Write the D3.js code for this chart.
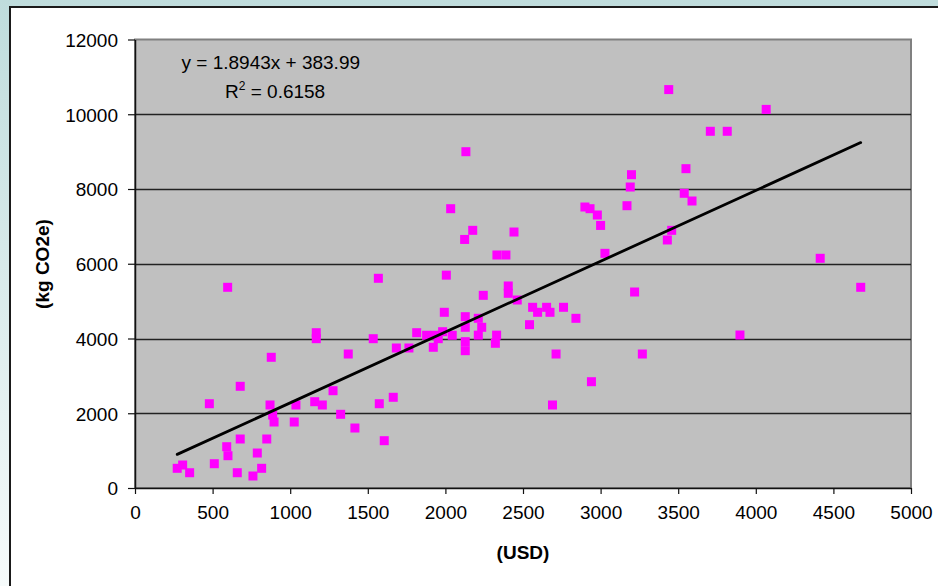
<!DOCTYPE html>
<html>
<head>
<meta charset="utf-8">
<script src="https://cdn.jsdelivr.net/npm/d3@7"></script>
<style>
    html, body { margin: 0; padding: 0; }
    body { width: 938px; height: 586px; overflow: hidden; }
    text { font-family: "Liberation Sans", Arial, sans-serif; fill: #000; }
</style>
</head>
<body>
<svg id="chart" width="938" height="586"></svg>
<script>
// values
const usd = [272, 307, 352, 479, 511, 591, 599, 597, 659, 678, 678, 760, 788, 816, 849, 870, 878, 887, 896,
    1026, 1037, 1158, 1168, 1168, 1207, 1276, 1325, 1374, 1417, 1535, 1574, 1606, 1664, 1684, 1765, 1815,
    1879, 1933, 1954, 1982, 1922, 2044, 1993, 2128, 2128, 2128, 2128, 2212, 2234, 2212, 2330, 2322, 2244,
    2405, 2405, 2463, 2562, 2594, 2652, 2674, 2761, 2841, 2542, 2713, 2941, 2690, 3269, 3898, 4676, 3219,
    3439, 4067, 3707, 3816, 3199, 3191, 3550, 3539, 3589, 3170, 2899, 2932, 2979, 3000, 3028, 2176, 2442,
    2332, 2390, 3458, 3430, 4415, 2132, 2034, 2124, 1568, 2006];
const co2 = [527, 615, 409, 2255, 650, 1105, 864, 5370, 409, 2721, 1311, 321, 936, 527, 1311, 2221, 3497, 1953, 1766,
    1766, 2221, 2309, 4155, 3995, 2221, 2603, 1972, 3585, 1605, 3995, 2255, 1266, 2427, 3746, 3746, 4155,
    4086, 4086, 3995, 4182, 3765, 4086, 4701, 4584, 4300, 3915, 3674, 4540, 4300, 4090, 4090, 3872, 5155,
    5405, 5209, 5030, 4835, 4701, 4835, 4701, 4835, 4540, 4370, 3585, 2844, 2221, 3585, 4093, 5370, 5244,
    10660, 10130, 9544, 9544, 8383, 8053, 8544, 7885, 7679, 7553, 7518, 7473, 7304, 7025, 6279, 6894, 6849,
    6234, 6234, 6894, 6636, 6146, 8998, 7473, 6650, 5611, 5695];
const xTicks = [0, 500, 1000, 1500, 2000, 2500, 3000, 3500, 4000, 4500, 5000];
const yTicks = [0, 2000, 4000, 6000, 8000, 10000, 12000];
const slope = 1.8943;
const intercept = 383.99;
const equationLabel = "y = 1.8943x + 383.99";
const r2Value = "0.6158";

const svg = d3.select("#chart");

// page background and chart frame
const defs = svg.append("defs");
const grad = defs.append("linearGradient").attr("id", "bg").attr("x1", 0).attr("y1", 0).attr("x2", 0).attr("y2", 1);
grad.append("stop").attr("offset", "0%").attr("stop-color", "#bfdcdc");
grad.append("stop").attr("offset", "100%").attr("stop-color", "#f6fbfb");
svg.append("rect").attr("width", 938).attr("height", 586).attr("fill", "url(#bg)");
svg.append("rect")
    .attr("x", 10).attr("y", 7)
    .attr("width", 940).attr("height", 600)
    .attr("fill", "#fff")
    .attr("stroke", "#1a1a1a")
    .attr("stroke-width", 2);

const plot = { left: 135, right: 911, top: 39.5, bottom: 488 };

const x = d3.scaleLinear().domain([0, 5000]).range([plot.left, plot.right]);
const y = d3.scaleLinear().domain([0, 12000]).range([plot.bottom, plot.top]);

svg.append("rect")
    .attr("x", plot.left).attr("y", plot.top)
    .attr("width", plot.right - plot.left).attr("height", plot.bottom - plot.top)
    .attr("fill", "#c0c0c0")
    .attr("stroke", "#808080")
    .attr("stroke-width", 2);

// gridlines
svg.append("g")
    .selectAll("line")
    .data(yTicks.filter((d) => d > 0 && d < 12000))
    .join("line")
    .attr("x1", plot.left).attr("x2", plot.right)
    .attr("y1", (d) => Math.round(y(d)) + 0.5).attr("y2", (d) => Math.round(y(d)) + 0.5)
    .attr("stroke", "#222")
    .attr("stroke-width", 1.3);

// axes
const fmt = d3.format("d");
const xAxis = svg.append("g")
    .attr("transform", `translate(0,${plot.bottom})`)
    .call(d3.axisBottom(x).tickValues(xTicks).tickFormat(fmt).tickSize(6).tickPadding(12).tickSizeOuter(0));
const yAxis = svg.append("g")
    .attr("transform", `translate(${plot.left},0)`)
    .call(d3.axisLeft(y).tickValues(yTicks).tickFormat(fmt).tickSize(7).tickPadding(10).tickSizeOuter(0));

for (const ax of [xAxis, yAxis]) {
    ax.select(".domain").attr("stroke", "#111").attr("stroke-width", 1.5);
    ax.selectAll(".tick line").attr("stroke", "#111").attr("stroke-width", 1.2);
    ax.selectAll(".tick text")
        .attr("font-family", "'Liberation Sans', Arial, sans-serif")
        .attr("font-size", 19)
        .attr("fill", "#000");
}
xAxis.selectAll(".tick text").attr("dy", "0.71em");
yAxis.selectAll(".tick text").attr("dy", "0.36em");

// data points
svg.append("g")
    .selectAll("rect")
    .data(d3.zip(usd, co2))
    .join("rect")
    .attr("x", (d) => x(d[0]) - 4.5)
    .attr("y", (d) => y(d[1]) - 4.5)
    .attr("width", 9)
    .attr("height", 9)
    .attr("fill", "#ff00ff");

// linear trend line
const xMin = d3.min(usd);
const xMax = d3.max(usd);
svg.append("line")
    .attr("x1", x(xMin)).attr("y1", y(slope * xMin + intercept))
    .attr("x2", x(xMax)).attr("y2", y(slope * xMax + intercept))
    .attr("stroke", "#000")
    .attr("stroke-width", 2.8)
    .attr("stroke-linecap", "round");

// trend equation
svg.append("text")
    .attr("x", 181.5).attr("y", 68.5)
    .attr("font-size", 19)
    .text(equationLabel);
const r2 = svg.append("text")
    .attr("x", 225).attr("y", 97.5)
    .attr("font-size", 19);
r2.append("tspan").text("R");
r2.append("tspan").attr("font-size", 12).attr("dy", -8).text("2");
r2.append("tspan").attr("dy", 8).text(" = " + r2Value);

// axis titles
svg.append("text")
    .attr("x", 523).attr("y", 559)
    .attr("text-anchor", "middle")
    .attr("font-size", 19)
    .attr("font-weight", "bold")
    .text("(USD)");
svg.append("text")
    .attr("transform", "translate(49,264) rotate(-90)")
    .attr("text-anchor", "middle")
    .attr("font-size", 19)
    .attr("font-weight", "bold")
    .text("(kg CO2e)");
</script>
</body>
</html>
